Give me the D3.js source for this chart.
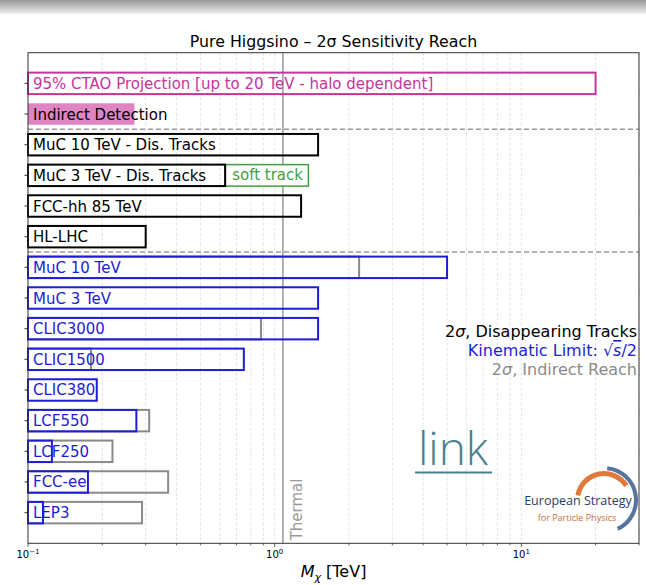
<html>
<head>
  <title>Pure Higgsino reach</title>
  <script src="https://d3js.org/d3.v7.min.js"></script>
  <style>
    body { margin: 0; background: white; }
    text { font-family: "DejaVu Sans", sans-serif; }
  </style>
</head>
<body>
<svg id="chart" width="646" height="585"></svg>
<script>
  // rows top to bottom
  const labels = ["95% CTAO Projection [up to 20 TeV - halo dependent]", "Indirect Detection",
    "MuC 10 TeV - Dis. Tracks", "MuC 3 TeV - Dis. Tracks", "FCC-hh 85 TeV", "HL-LHC",
    "MuC 10 TeV", "MuC 3 TeV", "CLIC3000", "CLIC1500", "CLIC380", "LCF550", "LCF250", "FCC-ee", "LEP3"];
  const kinds = ["ctao", "id", "dt", "dt", "dt", "dt", "kin", "kin", "kin", "kin", "kin", "kin", "kin", "kin", "kin"];
  // reach in TeV (2sigma dis. tracks / kinematic limit / indirect detection)
  const reach = [20, 0.27, 1.5, 0.63, 1.28, 0.30, 5, 1.5, 1.5, 0.75, 0.19, 0.275, 0.125, 0.175, 0.115];
  // 2sigma indirect reach at colliders (grey)
  const indirect = [null, null, null, null, null, null, 2.2, null, 0.88, 0.18, null, 0.31, 0.22, 0.37, 0.29];
  const softTrackRow = 3;
  const softTrack = [0.63, 1.37];
  const separators = [1.5, 5.5];
  const thermal = 1.08;
  const xTicks = [0.1, 1, 10];
  const xTickLabels = ["-1", "0", "1"];

  const svg = d3.select("#chart");
  const mLeft = 28, mRight = 639, mTop = 52.7, mBottom = 543.3;

  // browser toolbar strip at top of screenshot
  const grad = svg.append("defs").append("linearGradient").attr("id", "bar").attr("x1", 0).attr("x2", 0).attr("y1", 0).attr("y2", 1);
  grad.append("stop").attr("offset", 0).attr("stop-color", "#9a9a9a");
  grad.append("stop").attr("offset", 0.75).attr("stop-color", "#d8d8d8");
  grad.append("stop").attr("offset", 1).attr("stop-color", "#f4f4f4");
  svg.append("rect").attr("x", 0).attr("y", 0).attr("width", 646).attr("height", 14).attr("fill", "url(#bar)");

  const x = d3.scaleLog().domain([0.1, 30]).range([mLeft, mRight]);
  const y = d3.scaleLinear().domain([-1, 15]).range([mTop, mBottom]);
  const bh = y(0.35) - y(0);

  // grid at major and minor ticks
  const gridVals = [];
  [0.1, 1, 10].forEach(d => { for (let k = 1; k < 10; k++) if (d * k <= 30) gridVals.push(d * k); });
  svg.append("g").selectAll("line").data(gridVals.filter(d => d > 0.1)).join("line")
    .attr("x1", d => x(d)).attr("x2", d => x(d)).attr("y1", mTop).attr("y2", mBottom)
    .attr("stroke", "#dcdcdc").attr("stroke-width", 0.8).attr("stroke-dasharray", "3,2");

  // thermal line
  svg.append("line").attr("x1", x(thermal)).attr("x2", x(thermal)).attr("y1", mTop).attr("y2", mBottom)
    .attr("stroke", "#999").attr("stroke-width", 1.5);
  svg.append("text").attr("transform", `translate(${x(thermal) + 19},${mBottom - 3}) rotate(-90)`)
    .attr("font-size", 15).attr("fill", "#999").text("Thermal");

  // separators
  svg.append("g").selectAll("line").data(separators).join("line")
    .attr("x1", mLeft).attr("x2", mRight).attr("y1", d => y(d)).attr("y2", d => y(d))
    .attr("stroke", "#999").attr("stroke-width", 1.5).attr("stroke-dasharray", "5,3");

  const colors = { ctao: "#c4359c", id: "#e085c4", dt: "#000", kin: "#1d1dd6" };

  // grey indirect reach bars (under the blue ones)
  svg.append("g").selectAll("rect").data(indirect.map((v, i) => ({ v, i })).filter(d => d.v)).join("rect")
    .attr("x", x(0.1)).attr("y", d => y(d.i) - bh).attr("width", d => x(d.v) - x(0.1)).attr("height", 2 * bh)
    .attr("fill", "none").attr("stroke", "#8a8a8a").attr("stroke-width", 2);

  // soft track box
  svg.append("rect").attr("x", x(softTrack[0])).attr("y", y(softTrackRow) - bh)
    .attr("width", x(softTrack[1]) - x(softTrack[0])).attr("height", 2 * bh)
    .attr("fill", "white").attr("stroke", "#3f9f3f").attr("stroke-width", 1.5);
  svg.append("text").attr("x", x(softTrack[0]) + 7).attr("y", y(softTrackRow) + 5)
    .attr("font-size", 15).attr("fill", "#3f9f3f").text("soft track");

  // main bars
  svg.append("g").selectAll("rect").data(reach.map((v, i) => ({ v, i }))).join("rect")
    .attr("x", x(0.1)).attr("y", d => y(d.i) - bh).attr("width", d => x(d.v) - x(0.1)).attr("height", 2 * bh)
    .attr("fill", d => kinds[d.i] == "id" ? colors.id : "none")
    .attr("stroke", d => kinds[d.i] == "id" ? "none" : colors[kinds[d.i]])
    .attr("stroke-width", 2);

  // labels inside bars
  svg.append("g").selectAll("text").data(labels).join("text")
    .attr("x", mLeft + 5).attr("y", (d, i) => y(i) + 5.5)
    .attr("font-size", 15)
    .attr("fill", (d, i) => kinds[i] == "ctao" ? colors.ctao : kinds[i] == "kin" ? colors.kin : "#000")
    .text(d => d);

  // axes frame
  svg.append("rect").attr("x", mLeft).attr("y", mTop).attr("width", mRight - mLeft).attr("height", mBottom - mTop)
    .attr("fill", "none").attr("stroke", "#333").attr("stroke-width", 1);

  // y ticks
  svg.append("g").selectAll("line").data(d3.range(labels.length)).join("line")
    .attr("x1", mLeft - 3.5).attr("x2", mLeft).attr("y1", d => y(d)).attr("y2", d => y(d))
    .attr("stroke", "#333");

  // x ticks
  svg.append("g").selectAll("line").data(gridVals).join("line")
    .attr("x1", d => x(d)).attr("x2", d => x(d)).attr("y1", mBottom)
    .attr("y2", d => xTicks.includes(d) ? mBottom + 3.5 : mBottom + 2)
    .attr("stroke", "#333").attr("stroke-width", 0.8);
  const tl = svg.append("g").selectAll("text").data(xTicks).join("text")
    .attr("x", d => x(d)).attr("y", mBottom + 15).attr("text-anchor", "middle")
    .attr("font-size", 10);
  tl.append("tspan").text("10");
  tl.append("tspan").attr("dy", -4).attr("font-size", 7).text((d, i) => xTickLabels[i].replace("-", "\u2212"));

  // axis label
  const xl = svg.append("text").attr("x", (mLeft + mRight) / 2).attr("y", 577).attr("text-anchor", "middle").attr("font-size", 16);
  xl.append("tspan").attr("font-style", "italic").text("M");
  xl.append("tspan").attr("dy", 4).attr("font-size", 11).attr("font-style", "italic").text("\u03c7");
  xl.append("tspan").attr("dy", -4).text(" [TeV]");

  // title
  svg.append("text").attr("x", (mLeft + mRight) / 2).attr("y", 47).attr("text-anchor", "middle").attr("font-size", 15.8)
    .text("Pure Higgsino \u2013 2\u03c3 Sensitivity Reach");

  // legend text
  const lg = svg.append("g").attr("font-size", 16).attr("text-anchor", "end");
  const l1 = lg.append("text").attr("x", 637).attr("y", 337).attr("fill", "#000");
  l1.append("tspan").text("2"); l1.append("tspan").attr("font-style", "italic").text("\u03c3"); l1.append("tspan").text(", Disappearing Tracks");
  const l2 = lg.append("text").attr("x", 637).attr("y", 356).attr("fill", colors.kin);
  l2.append("tspan").text("Kinematic Limit: \u221a");
  l2.append("tspan").attr("font-style", "italic").style("text-decoration", "overline").text("s");
  l2.append("tspan").text("/2");
  const l3 = lg.append("text").attr("x", 637).attr("y", 375).attr("fill", "#8a8a8a");
  l3.append("tspan").text("2"); l3.append("tspan").attr("font-style", "italic").text("\u03c3"); l3.append("tspan").text(", Indirect Reach");

  // link
  svg.append("text").attr("x", 453).attr("y", 465).attr("text-anchor", "middle")
    .style("font-family", "'Open Sans', sans-serif").attr("font-size", 46).attr("font-weight", 300)
    .attr("fill", "#4a7f8e").text("link");
  svg.append("line").attr("x1", 415).attr("x2", 492).attr("y1", 472.5).attr("y2", 472.5)
    .attr("stroke", "#4a7f8e").attr("stroke-width", 2);

  // ESPP logo
  const logo = svg.append("g").attr("transform", "translate(604,500)");
  logo.append("path").attr("d", d3.arc()({ innerRadius: 24, outerRadius: 29, startAngle: -1.4, endAngle: 1.0 }))
    .attr("fill", "#e07a3c");
  logo.append("path").attr("d", d3.arc()({ innerRadius: 30, outerRadius: 34, startAngle: 0.1, endAngle: 2.7 }))
    .attr("fill", "#3b5a8c").attr("opacity", 0.85);
  logo.append("text").attr("x", -26).attr("y", 4.5).attr("text-anchor", "middle")
    .style("font-family", "'Open Sans', sans-serif").attr("font-size", 12.5).attr("fill", "#2b3d66").text("European Strategy");
  logo.append("text").attr("x", -27).attr("y", 20.5).attr("text-anchor", "middle")
    .style("font-family", "'Open Sans', sans-serif").attr("font-size", 9).attr("fill", "#c2703a").text("for Particle Physics");
</script>
</body>
</html>
